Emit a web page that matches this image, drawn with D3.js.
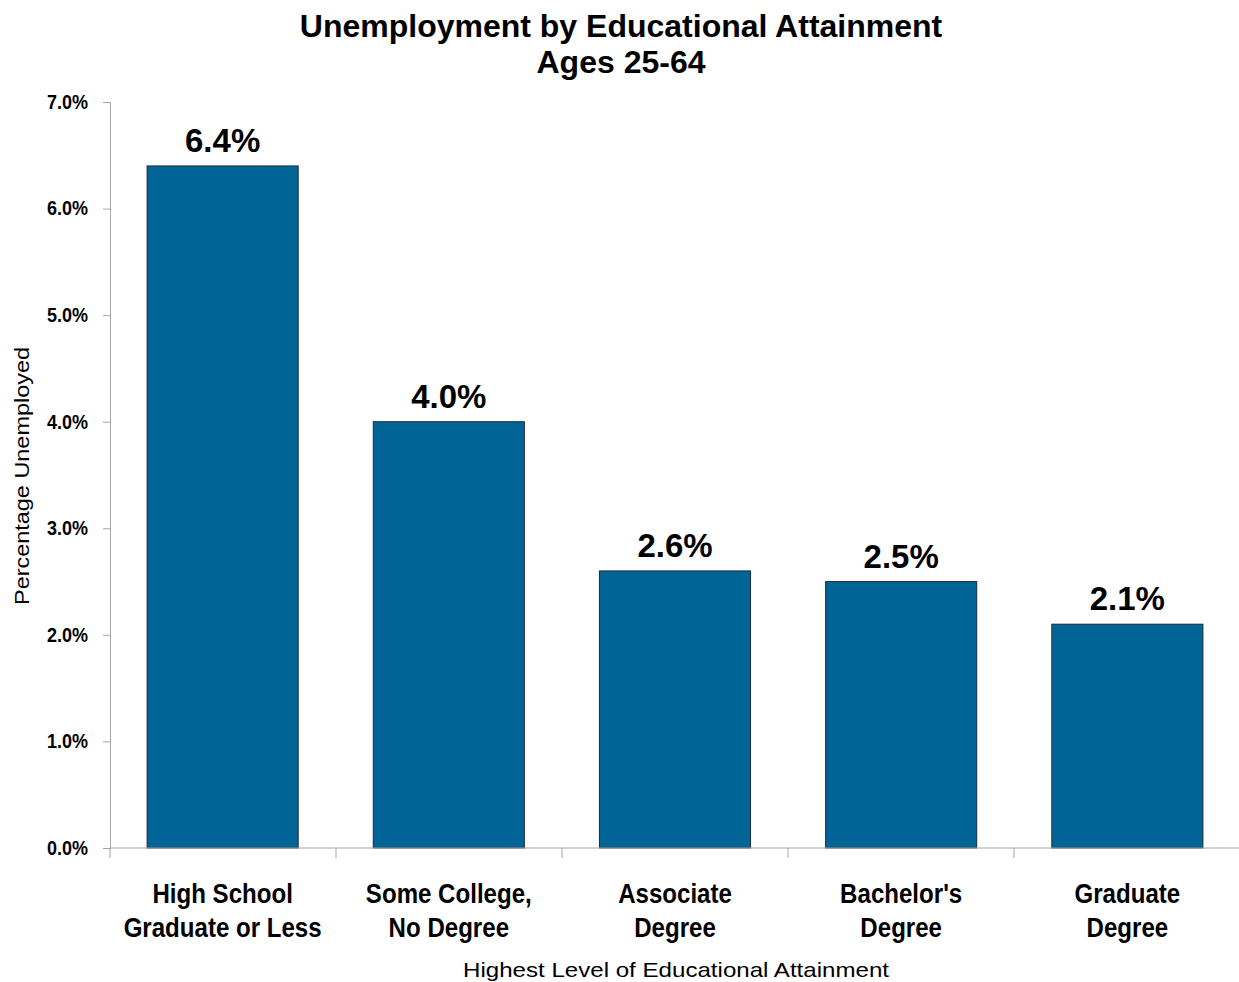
<!DOCTYPE html>
<html>
<head>
<meta charset="utf-8">
<script src="https://cdn.jsdelivr.net/npm/d3@7"></script>
<style>
  body { margin: 0; background: #fff; }
  text { fill: #000; }
  .narrow { font-family: "Liberation Sans Narrow", "Arial Narrow", "Liberation Sans", Arial, sans-serif; font-weight: bold; }
  .sans { font-family: "Liberation Sans", Arial, sans-serif; }
</style>
</head>
<body>
<div id="chart"></div>
<script>
// Chart data
var categories = [
    ["High School", "Graduate or Less"],
    ["Some College,", "No Degree"],
    ["Associate", "Degree"],
    ["Bachelor's", "Degree"],
    ["Graduate", "Degree"]
];
var rates = [0.064, 0.040, 0.026, 0.025, 0.021];
var rateLabels = ["6.4%", "4.0%", "2.6%", "2.5%", "2.1%"];
var yTicks = [0, 0.01, 0.02, 0.03, 0.04, 0.05, 0.06, 0.07];

var svgWidth = 1239;
var svgHeight = 982;

var margin = { top: 102, right: 0, bottom: 134, left: 110 };
var chartWidth = 1240 - margin.left;
var chartHeight = svgHeight - margin.top - margin.bottom;

var axisColor = "#a6a6a6";
// no condensed font installed, so squeeze the narrow labels horizontally
var tickSqueeze = 0.9;
var catSqueeze = 0.86;

var svg = d3.select("#chart")
    .append("svg")
    .attr("width", svgWidth)
    .attr("height", svgHeight);

var chartGroup = svg.append("g")
    .attr("transform", `translate(${margin.left}, ${margin.top})`);

// scales
var xBandScale = d3.scaleBand()
    .domain(d3.range(categories.length))
    .range([0, chartWidth])
    .paddingInner(0.332)
    .paddingOuter(0.164);

var yLinearScale = d3.scaleLinear()
    .domain([0, 0.07])
    .range([chartHeight, 0]);

// y axis
var leftAxis = d3.axisLeft(yLinearScale)
    .tickValues(yTicks)
    .tickSize(7)
    .tickPadding(15)
    .tickFormat(d3.format(".1%"));

var yAxis = chartGroup.append("g").call(leftAxis);
yAxis.select(".domain").attr("stroke", axisColor);
yAxis.selectAll(".tick line").attr("stroke", axisColor);
yAxis.selectAll(".tick text")
    .classed("narrow", true)
    .attr("font-size", "20px")
    .attr("fill", "#000")
    .attr("x", -22 / tickSqueeze)
    .attr("transform", `scale(${tickSqueeze}, 1)`);

// bars
chartGroup.selectAll("rect.bar")
    .data(rates)
    .enter()
    .append("rect")
    .attr("class", "bar")
    .attr("x", (d, i) => xBandScale(i))
    .attr("y", d => yLinearScale(d))
    .attr("width", xBandScale.bandwidth())
    .attr("height", d => chartHeight - yLinearScale(d))
    .attr("fill", "#006496")
    .attr("stroke", "#1c2b38")
    .attr("stroke-width", 1);

// x axis line and boundary ticks
var boundaries = d3.range(categories.length + 1).map(i => i * chartWidth / categories.length);
var xAxis = chartGroup.append("g")
    .attr("transform", `translate(0, ${chartHeight})`);
xAxis.append("line")
    .attr("x1", 0).attr("x2", chartWidth)
    .attr("stroke", axisColor);
xAxis.selectAll("line.tick")
    .data(boundaries)
    .enter()
    .append("line")
    .attr("class", "tick")
    .attr("x1", d => d).attr("x2", d => d)
    .attr("y1", 0).attr("y2", 10)
    .attr("stroke", axisColor);

// value labels
chartGroup.selectAll("text.value")
    .data(rates)
    .enter()
    .append("text")
    .attr("class", "value sans")
    .attr("x", (d, i) => xBandScale(i) + xBandScale.bandwidth() / 2)
    .attr("y", d => yLinearScale(d) - 14)
    .attr("text-anchor", "middle")
    .attr("font-size", "33px")
    .attr("font-weight", "bold")
    .text((d, i) => rateLabels[i]);

// category labels
var catText = chartGroup.selectAll("text.cat")
    .data(categories)
    .enter()
    .append("text")
    .attr("class", "cat narrow")
    .attr("text-anchor", "middle")
    .attr("font-size", "28px")
    .attr("transform", (d, i) => `translate(${xBandScale(i) + xBandScale.bandwidth() / 2}, ${chartHeight + 55}) scale(${catSqueeze}, 1)`);

catText.selectAll("tspan")
    .data(d => d)
    .enter()
    .append("tspan")
    .attr("x", 0)
    .attr("y", (d, i) => i * 34.5)
    .text(d => d);

// axis titles
svg.append("text")
    .attr("class", "sans")
    .attr("x", 676)
    .attr("y", 977)
    .attr("text-anchor", "middle")
    .attr("font-size", "21px")
    .attr("textLength", 426)
    .attr("lengthAdjust", "spacingAndGlyphs")
    .text("Highest Level of Educational Attainment");

svg.append("text")
    .attr("class", "sans")
    .attr("transform", "translate(29, 476) rotate(-90)")
    .attr("text-anchor", "middle")
    .attr("font-size", "21px")
    .attr("textLength", 258)
    .attr("lengthAdjust", "spacingAndGlyphs")
    .text("Percentage Unemployed");

// title
var title = svg.append("text")
    .attr("class", "sans")
    .attr("text-anchor", "middle")
    .attr("font-size", "32px")
    .attr("font-weight", "bold");
title.append("tspan").attr("x", 621).attr("y", 37).text("Unemployment by Educational Attainment");
title.append("tspan").attr("x", 621).attr("y", 73).text("Ages 25-64");
</script>
</body>
</html>
